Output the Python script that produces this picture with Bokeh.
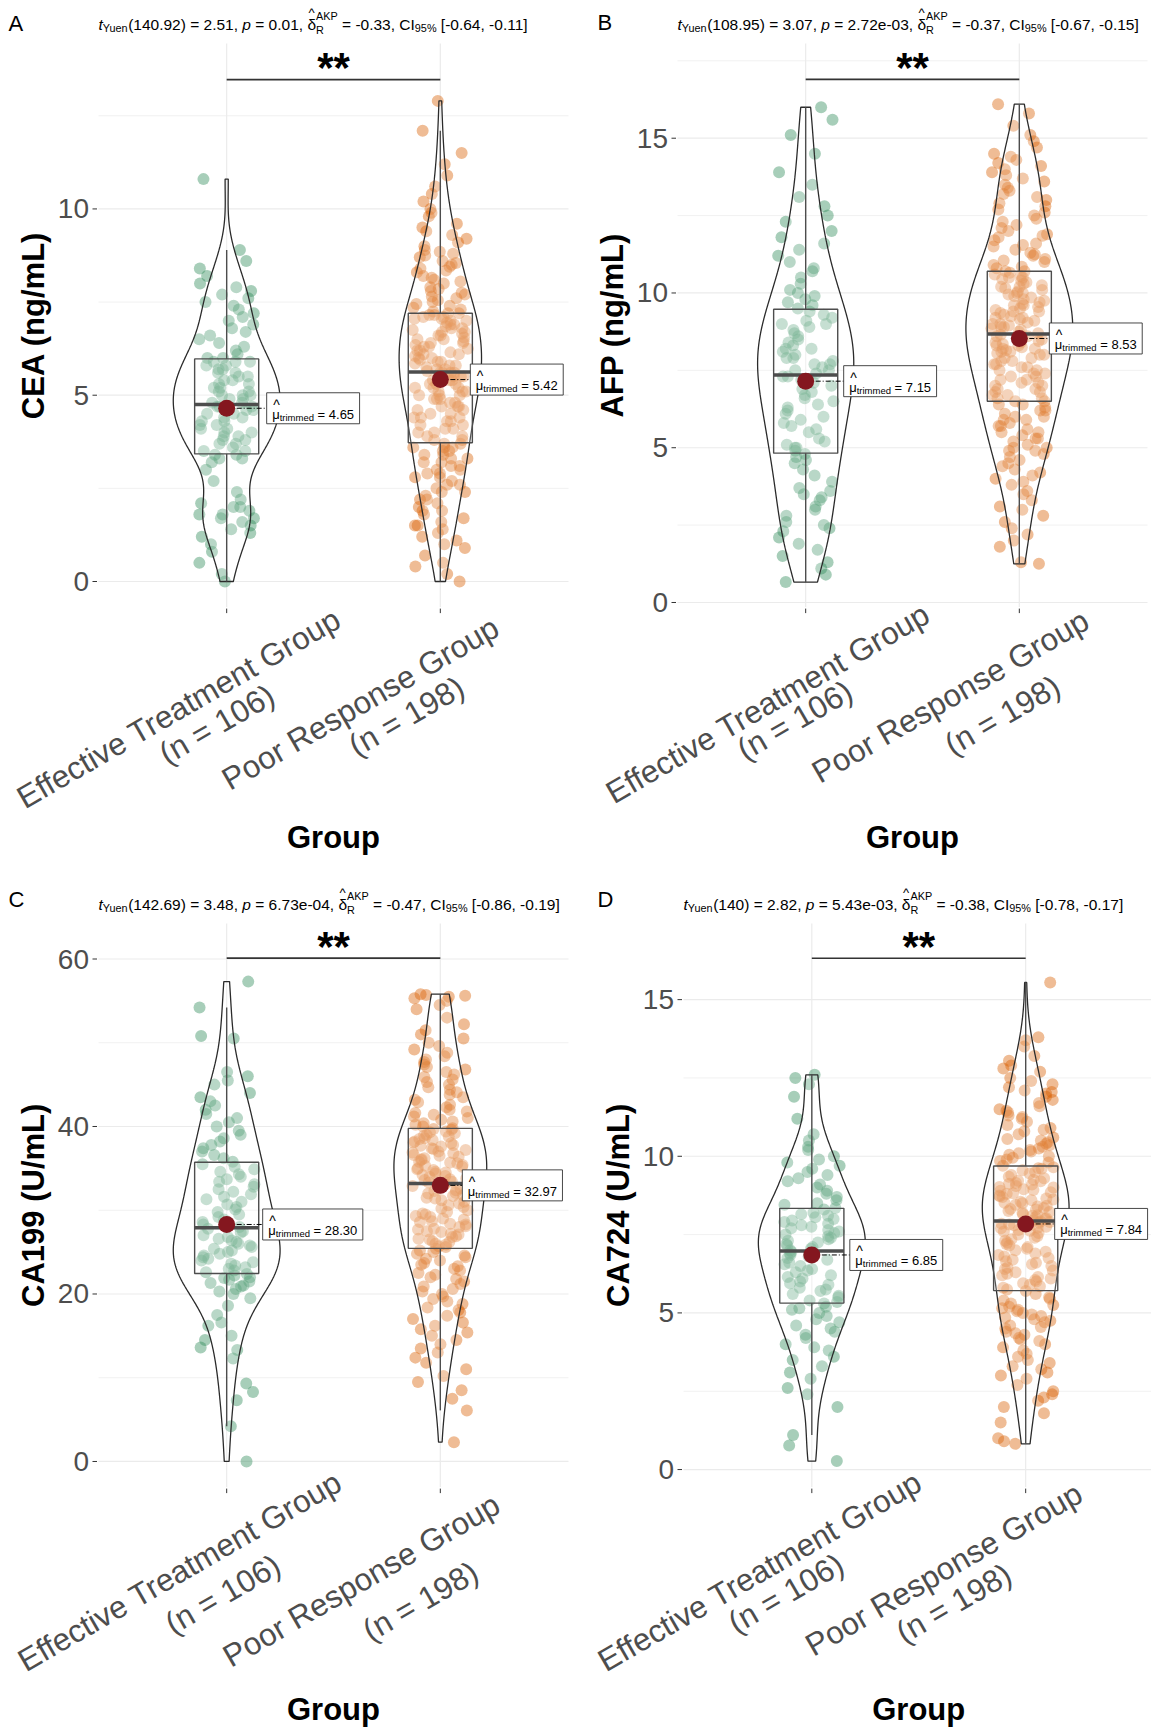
import numpy as np
from bokeh.plotting import figure
from bokeh.models import Label, Range1d
from bokeh.layouts import row, column
from bokeh.embed import file_html
from bokeh.resources import INLINE

# ---------------- data ----------------
groups = ["Effective Treatment Group", "Poor Response Group"]
group_n = [106, 198]
markers = ["CEA (ng/mL)", "AFP (ng/mL)", "CA199 (U/mL)", "CA724 (U/mL)"]
panel_tags = ["A", "B", "C", "D"]

cea_eff = [0.0, 0.2, 0.5, 0.8, 1.0, 1.2, 1.3, 1.4, 1.5, 1.6, 1.7, 1.7, 1.8, 1.8, 1.9, 2.0, 2.0, 2.1, 2.2, 2.4,
           2.7, 3.0, 3.2, 3.3, 3.3, 3.4, 3.4, 3.5, 3.5, 3.6, 3.7, 3.7, 3.8, 3.8, 3.9, 3.9, 4.0, 4.0, 4.1, 4.1,
           4.2, 4.2, 4.3, 4.3, 4.4, 4.4, 4.5, 4.5, 4.6, 4.6, 4.7, 4.7, 4.7, 4.8, 4.8, 4.9, 4.9, 5.0, 5.0, 5.0,
           5.1, 5.1, 5.2, 5.2, 5.3, 5.3, 5.4, 5.4, 5.5, 5.5, 5.6, 5.6, 5.7, 5.7, 5.8, 5.8, 5.9, 5.9, 5.9, 6.0,
           6.0, 6.1, 6.2, 6.3, 6.4, 6.5, 6.6, 6.7, 6.8, 6.9, 7.0, 7.1, 7.2, 7.3, 7.4, 7.5, 7.6, 7.7, 7.8, 7.9,
           8.0, 8.2, 8.4, 8.6, 8.9, 10.8]
cea_poor = [0.0, 0.2, 0.4, 0.5, 0.7, 0.9, 1.0, 1.1, 1.2, 1.3, 1.4, 1.5, 1.5, 1.6, 1.7, 1.8, 1.9, 1.9, 2.0, 2.1,
            2.2, 2.2, 2.3, 2.4, 2.4, 2.5, 2.6, 2.6, 2.7, 2.8, 2.8, 2.9, 2.9, 3.0, 3.0, 3.1, 3.1, 3.2, 3.2, 3.3,
            3.3, 3.4, 3.4, 3.5, 3.5, 3.6, 3.6, 3.6, 3.7,
            3.7, 3.8, 3.8, 3.9, 3.9, 4.0, 4.0, 4.1, 4.1, 4.2, 4.2, 4.3, 4.3, 4.4, 4.4, 4.4, 4.5, 4.5, 4.6, 4.6,
            4.7, 4.7, 4.7, 4.8, 4.8, 4.9, 4.9, 4.9, 5.0, 5.0, 5.0, 5.1, 5.1, 5.1, 5.2, 5.2, 5.2, 5.3, 5.3, 5.3,
            5.4, 5.4, 5.4, 5.5, 5.5, 5.5, 5.6, 5.6, 5.6, 5.6,
            5.65, 5.7, 5.7, 5.75, 5.8, 5.8, 5.85, 5.9, 5.9, 5.95, 6.0, 6.0, 6.05, 6.1, 6.1, 6.15, 6.2, 6.2, 6.25, 6.3,
            6.3, 6.35, 6.4, 6.4, 6.45, 6.5, 6.5, 6.55, 6.6, 6.6, 6.65, 6.7, 6.7, 6.75, 6.8, 6.8, 6.85, 6.9, 6.9, 6.95,
            7.0, 7.0, 7.05, 7.05, 7.1, 7.1, 7.15, 7.15, 7.2, 7.2,
            7.25, 7.3, 7.35, 7.4, 7.45, 7.5, 7.55, 7.6, 7.65, 7.7, 7.75, 7.8, 7.85, 7.9, 8.0, 8.05, 8.1, 8.15, 8.2, 8.3,
            8.35, 8.4, 8.45, 8.5, 8.55, 8.6, 8.7, 8.75, 8.8, 8.85, 8.9, 9.0, 9.1, 9.2, 9.3, 9.4, 9.5, 9.6, 9.8, 9.9,
            10.0, 10.2, 10.4, 10.6, 10.9, 11.2, 11.5, 12.1, 12.9]
afp_eff = [0.66, 0.9, 1.1, 1.3, 1.5, 1.7, 1.9, 2.1, 2.3, 2.4, 2.5, 2.6, 2.8, 3.0, 3.1, 3.3, 3.4, 3.5, 3.6, 3.7,
           3.9, 4.1, 4.3, 4.5, 4.6, 4.7,
           4.8, 4.9, 5.0, 5.0, 5.1, 5.2, 5.3, 5.5, 5.6, 5.7, 5.8, 5.9, 6.0, 6.1, 6.2, 6.3, 6.4, 6.5, 6.6, 6.7,
           6.8, 6.9, 7.0, 7.1, 7.2, 7.3, 7.3,
           7.4, 7.5, 7.5, 7.6, 7.7, 7.7, 7.8, 7.9, 7.9, 8.0, 8.1, 8.2, 8.2, 8.3, 8.4, 8.5, 8.6, 8.7, 8.8, 8.9,
           9.0, 9.0, 9.1, 9.2, 9.3, 9.4, 9.5,
           9.6, 9.7, 9.8, 9.9, 10.0, 10.1, 10.3, 10.5, 10.7, 10.8, 11.0, 11.2, 11.4, 11.6, 11.8, 12.0, 12.3, 12.5,
           12.8, 13.1, 13.5, 13.9, 14.5, 15.1, 15.6, 16.0]
afp_poor = [1.25, 1.3, 1.8, 2.0, 2.2, 2.4, 2.6, 2.8, 3.0, 3.1, 3.3, 3.5, 3.6, 3.8, 3.9, 4.0, 4.1, 4.2, 4.3, 4.4,
            4.5, 4.6, 4.7, 4.8, 4.9, 4.9, 5.0, 5.0, 5.1, 5.2, 5.3, 5.3, 5.4, 5.5, 5.5, 5.6, 5.7, 5.7, 5.8, 5.9,
            5.9, 6.0, 6.0, 6.1, 6.2, 6.2, 6.3, 6.4, 6.4,
            6.5, 6.5, 6.6, 6.6, 6.7, 6.7, 6.8, 6.8, 6.9, 6.9, 7.0, 7.0, 7.1, 7.1, 7.2, 7.2, 7.3, 7.3, 7.4, 7.4,
            7.5, 7.5, 7.6, 7.6, 7.7, 7.7, 7.8, 7.8, 7.9, 7.9, 8.0, 8.0, 8.05, 8.1, 8.1, 8.15, 8.2, 8.2, 8.25, 8.3,
            8.3, 8.35, 8.4, 8.4, 8.45, 8.5, 8.55, 8.6, 8.6, 8.65,
            8.7, 8.75, 8.8, 8.85, 8.9, 8.9, 8.95, 9.0, 9.0, 9.05, 9.1, 9.15, 9.2, 9.2, 9.25, 9.3, 9.35, 9.4, 9.4, 9.45,
            9.5, 9.55, 9.6, 9.6, 9.65, 9.7, 9.75, 9.8, 9.85, 9.9, 9.95, 10.0, 10.0, 10.05, 10.1, 10.15, 10.2, 10.2,
            10.25, 10.3, 10.35, 10.4, 10.45, 10.5, 10.5, 10.55, 10.6, 10.65, 10.7, 10.7,
            10.8, 10.85, 10.9, 11.0, 11.05, 11.1, 11.2, 11.25, 11.3, 11.4, 11.5, 11.55, 11.6, 11.7, 11.8, 11.85,
            11.9, 12.0, 12.1, 12.2, 12.3, 12.4, 12.5, 12.6, 12.7, 12.8, 12.9, 13.0, 13.1, 13.2, 13.3, 13.4, 13.5,
            13.6, 13.7, 13.8, 13.9, 14.0, 14.1, 14.2, 14.3, 14.4, 14.5, 14.7, 14.9, 15.1, 15.4, 15.8, 16.1]
ca199_eff = [0.0, 4.2, 7.3, 8.3, 9.3, 12.3, 13.3, 13.6, 14.5, 15.0, 16.2, 16.6, 17.5, 18.6, 19.5, 20.0, 20.3,
             20.6, 20.9, 21.0, 21.3, 21.5, 21.7, 21.9, 22.0, 22.2,
             22.4, 22.6, 22.8, 23.0, 23.2, 23.4, 23.6, 23.8, 24.0, 24.2, 24.4, 24.6, 24.8, 25.0, 25.2, 25.4, 25.6,
             25.8, 26.0, 26.2, 26.4, 26.6, 26.8, 27.0, 27.3, 27.5, 27.8,
             28.0, 28.3, 28.6, 28.9, 29.2, 29.5, 29.8, 30.1, 30.4, 30.7, 31.0, 31.3, 31.6, 31.9, 32.2, 32.5, 32.8,
             33.1, 33.4, 33.7, 34.0, 34.3, 34.6, 34.9, 35.2, 35.5, 35.8,
             36.2, 36.6, 37.0, 37.4, 37.8, 38.2, 38.6, 39.0, 39.5, 40.0, 40.5, 41.0, 41.5, 42.0, 42.5, 43.0, 43.5,
             44.0, 45.0, 45.5, 46.0, 46.5, 50.5, 50.8, 54.2, 57.3]
ca199_poor = [2.3, 6.1, 7.5, 8.5, 9.5, 10.2, 11.0, 11.8, 12.4, 13.0, 13.5, 14.0, 14.5, 15.0, 15.4, 15.8, 16.2,
              16.6, 17.0, 17.4, 17.8, 18.1, 18.4, 18.8, 19.1, 19.4, 19.7, 20.0, 20.3, 20.6, 20.9, 21.2, 21.5,
              21.8, 22.0, 22.3, 22.5, 22.8, 23.0, 23.3, 23.5, 23.7, 24.0, 24.2, 24.4, 24.6, 24.8, 25.0, 25.2,
              25.4, 25.6, 25.7, 25.9, 26.0, 26.2, 26.3, 26.5, 26.6, 26.8, 26.9, 27.1, 27.2, 27.4, 27.5, 27.7,
              27.8, 28.0, 28.1, 28.3, 28.4, 28.6, 28.7, 28.9, 29.0, 29.2, 29.3, 29.5, 29.6, 29.8, 30.0, 30.2,
              30.4, 30.6, 30.8, 31.0, 31.2, 31.4, 31.5, 31.7, 31.8, 32.0, 32.1, 32.3, 32.4, 32.6, 32.7, 32.9,
              33.0, 33.1,
              33.3, 33.4, 33.6, 33.7, 33.8, 34.0, 34.1, 34.2, 34.4, 34.5, 34.6, 34.8, 34.9, 35.0, 35.2, 35.3,
              35.4, 35.6, 35.7, 35.8, 36.0, 36.1, 36.2, 36.4, 36.5, 36.6, 36.8, 36.9, 37.0, 37.2, 37.3, 37.4,
              37.6, 37.7, 37.8, 38.0, 38.1, 38.2, 38.4, 38.5, 38.6, 38.8, 38.9, 39.0, 39.2, 39.3, 39.4, 39.6,
              39.7, 39.8,
              40.0, 40.2, 40.4, 40.6, 40.8, 41.0, 41.2, 41.4, 41.6, 41.8, 42.0, 42.3, 42.6, 42.9, 43.2, 43.5,
              43.8, 44.1, 44.4, 44.7, 45.0, 45.3, 45.6, 45.9, 46.2, 46.5, 46.8, 47.1, 47.4, 47.7, 48.0, 48.4,
              48.8, 49.2, 49.6, 50.0, 50.5, 51.0, 51.5, 52.2, 53.0, 54.0, 54.5, 55.0, 55.3, 55.5, 55.6, 55.7, 55.8]
ca724_eff = [0.27, 0.77, 1.1, 2.0, 2.4, 2.6, 2.9, 3.1, 3.3, 3.5, 3.6, 3.8, 3.9, 4.0, 4.2, 4.3, 4.4, 4.5, 4.6,
             4.7, 4.8, 4.9, 5.0, 5.1, 5.15, 5.2,
             5.3, 5.35, 5.4, 5.5, 5.55, 5.6, 5.7, 5.75, 5.8, 5.9, 5.95, 6.0, 6.1, 6.15, 6.2, 6.3, 6.35, 6.4,
             6.5, 6.55, 6.6, 6.7, 6.75, 6.8, 6.85, 6.9, 6.95,
             7.0, 7.05, 7.1, 7.15, 7.2, 7.25, 7.3, 7.35, 7.4, 7.45, 7.5, 7.55, 7.6, 7.65, 7.7, 7.75, 7.8, 7.85,
             7.9, 7.95, 8.0, 8.05, 8.1, 8.15, 8.2, 8.3, 8.35,
             8.45, 8.5, 8.6, 8.7, 8.8, 8.9, 9.0, 9.1, 9.2, 9.3, 9.4, 9.5, 9.6, 9.7, 9.8, 9.9, 10.0, 10.2, 10.3,
             10.5, 10.7, 11.2, 11.9, 12.3, 12.5, 12.6]
ca724_poor = [0.82, 0.9, 1.0, 1.5, 1.8, 2.0, 2.2, 2.3, 2.4, 2.5, 2.7, 2.9, 3.0, 3.1, 3.2, 3.3, 3.4, 3.5, 3.6,
              3.7, 3.8, 3.9, 4.0, 4.1, 4.15, 4.2, 4.3, 4.35, 4.4, 4.5, 4.55, 4.6, 4.7, 4.75, 4.8, 4.85, 4.9,
              4.95, 5.0, 5.05, 5.1, 5.15, 5.2, 5.25, 5.3, 5.4, 5.45, 5.5, 5.6,
              5.7, 5.75, 5.8, 5.85, 5.9, 5.95, 6.0, 6.05, 6.1, 6.15, 6.2, 6.25, 6.3, 6.35, 6.4, 6.45, 6.5, 6.55,
              6.6, 6.65, 6.7, 6.75, 6.8, 6.85, 6.9, 6.95, 7.0, 7.05, 7.1, 7.15, 7.2, 7.25, 7.3, 7.35, 7.4, 7.45,
              7.5, 7.55, 7.6, 7.62, 7.65, 7.7, 7.72, 7.75, 7.8, 7.82, 7.85, 7.88, 7.9, 7.92,
              7.95, 8.0, 8.02, 8.05, 8.1, 8.12, 8.15, 8.2, 8.22, 8.25, 8.3, 8.32, 8.35, 8.4, 8.42, 8.45, 8.5,
              8.52, 8.55, 8.6, 8.62, 8.65, 8.7, 8.72, 8.75, 8.8, 8.82, 8.85, 8.9, 8.92, 8.95, 9.0, 9.02, 9.05,
              9.1, 9.12, 9.15, 9.2, 9.22, 9.25, 9.3, 9.35, 9.4, 9.45, 9.5, 9.55, 9.6, 9.62, 9.65, 9.7,
              9.8, 9.85, 9.9, 9.95, 10.0, 10.05, 10.1, 10.15, 10.2, 10.25, 10.3, 10.35, 10.4, 10.45, 10.5, 10.55,
              10.6, 10.7, 10.8, 10.85, 10.9, 11.0, 11.1, 11.2, 11.25, 11.3, 11.4, 11.45, 11.5, 11.6, 11.7, 11.8,
              11.9, 12.0, 12.05, 12.1, 12.2, 12.3, 12.4, 12.5, 12.7, 12.8, 12.9, 13.05, 13.2, 13.5, 13.7, 13.8, 15.55]

trimmed_means = [[4.65, 5.42], [7.15, 8.53], [28.30, 32.97], [6.85, 7.84]]
yuen_df = ["140.92", "108.95", "142.69", "140"]
yuen_t = ["2.51", "3.07", "3.48", "2.82"]
p_values = ["0.01", "2.72e-03", "6.73e-04", "5.43e-03"]
delta_akp = ["-0.33", "-0.37", "-0.47", "-0.38"]
ci_low = ["-0.64", "-0.67", "-0.86", "-0.78"]
ci_high = ["-0.11", "-0.15", "-0.19", "-0.17"]
signif_labels = ["**", "**", "**", "**"]
sig_bar_y = [13.47, 16.9, 60.1, 16.32]
y_ticks = [[0, 5, 10], [0, 5, 10, 15], [0, 20, 40, 60], [0, 5, 10, 15]]
y_minor = [[2.5, 7.5, 12.5], [2.5, 7.5, 12.5, 17.5], [10, 30, 50], [2.5, 7.5, 12.5]]
y_limits = [(-0.687, 14.44), (-0.149, 18.06), (-3.06, 64.24), (-0.56, 17.43)]

panel_values = [[cea_eff, cea_poor], [afp_eff, afp_poor], [ca199_eff, ca199_poor], [ca724_eff, ca724_poor]]

# ---------------- layout / style ----------------
FONT = "Liberation Sans"
GREEN, ORANGE = "#2E8B57", "#D95F02"
FIG_W = [576, 575, 576, 575]
FIG_H = 864
ORIGIN = [(0, 0), (576, 0), (0, 864), (576, 864)]            # page position of each figure
FRAME = [(98, 568, 43, 606.6), (677, 1147, 43, 606.6),        # panel area (left, right, top, bottom)
         (98, 568, 923, 1486.6), (683, 1153.5, 923, 1486.6)]
LABEL_DX = [[40, 30], [38, 30], [36, 22], [38, 29]]
XLAB_OFF = [[(-48, 101, -10, 117), (-80, 96, -34, 109)],
            [(-38, 96, -11, 113), (-69, 89, -17, 108)],
            [(-47, 84, -4, 107), (-79, 93, -20, 114)],
            [(-52, 84, -26, 106), (-82, 82, -72, 116)]]
GROUP_TITLE_DY = [230, 230, 222, 222]
TAG_POS = [(8, 23), (597, 22), (8, 899), (597, 899)]

AW = {' ': 278, '%': 889, '(': 333, ')': 333, ',': 278, '-': 333, '.': 278, '=': 584, '[': 278, ']': 278,
      '^': 469, 'A': 667, 'C': 722, 'E': 667, 'G': 778, 'I': 278, 'K': 667, 'P': 667, 'R': 722, 'T': 611,
      'Y': 667, 'a': 556, 'c': 500, 'd': 556, 'e': 556, 'f': 278, 'i': 222, 'm': 833, 'n': 556, 'o': 556,
      'p': 556, 'r': 333, 's': 500, 't': 278, 'u': 556, 'v': 500, 'δ': 556, 'μ': 576}


def tw(s, size):
    return sum(AW.get(c, 556) for c in s) / 1000.0 * size


def jitter(n, seed):
    i = np.arange(n)
    h = np.sin(i * 91.3458 + seed * 47.853 + 0.5) * 24634.6345
    return ((h - np.floor(h)) * 2 - 1) * 0.13


def kde(v):
    v = np.asarray(v, float)
    n = len(v)
    q75, q25 = np.percentile(v, [75, 25])
    bw = 0.9 * min(v.std(ddof=1), (q75 - q25) / 1.34) * n ** (-0.2)
    ys = np.linspace(v.min(), v.max(), 300)
    d = np.exp(-0.5 * ((ys[:, None] - v[None, :]) / bw) ** 2).sum(1) / (n * bw * np.sqrt(2 * np.pi))
    return ys, d


def make_panel(k):
    ox, oy = ORIGIN[k]
    W = FIG_W[k]
    fl, fr, ft, fb = FRAME[k]
    y0, y1 = y_limits[k]

    def X(rx):
        return 0.4 + (rx - fl) / (fr - fl) * 2.2

    def Y(ry):
        return y0 + (fb - ry) / (fb - ft) * (y1 - y0)

    def PX(xd):
        return fl + (xd - 0.4) / 2.2 * (fr - fl)

    def PY(yd):
        return fb - (yd - y0) / (y1 - y0) * (fb - ft)

    p = figure(width=W, height=FIG_H, x_range=Range1d(X(ox), X(ox + W)), y_range=Range1d(Y(oy + FIG_H), Y(oy)),
               output_backend="svg", toolbar_location=None, x_axis_location=None, y_axis_location=None,
               min_border=0, min_border_left=0, min_border_right=0, min_border_top=0, min_border_bottom=0)
    p.outline_line_color = None
    p.background_fill_color = "white"
    p.border_fill_color = "white"
    p.grid.visible = False

    def lab(rx, ry, text, size, color="#000000", style="normal", align="left",
            baseline="alphabetic", angle=0):
        stripped = text.lstrip(" ")
        if align == "left":
            rx += (len(text) - len(stripped)) * tw(" ", size)
        p.add_layout(Label(x=X(rx), y=Y(ry), text=stripped, text_font=FONT, text_font_size=f"{size}px",
                           text_color=color, text_font_style=style, text_align=align,
                           text_baseline=baseline, angle=angle, angle_units="deg"))

    # panel grid
    xl, xr = X(fl), X(min(fr, ox + W))
    ymin = list(y_minor[k])
    p.segment(x0=[xl] * len(ymin), y0=ymin, x1=[xr] * len(ymin), y1=ymin, line_color="#F1F1F1", line_width=1)
    yt = y_ticks[k]
    p.segment(x0=[xl] * len(yt), y0=yt, x1=[xr] * len(yt), y1=yt, line_color="#EBEBEB", line_width=1.2)
    p.segment(x0=[1, 2], y0=[y0, y0], x1=[1, 2], y1=[y1, y1], line_color="#EBEBEB", line_width=1.2)
    # ticks
    p.segment(x0=[X(fl - 6)] * len(yt), y0=yt, x1=[X(fl - 1.5)] * len(yt), y1=yt, line_color="#333333",
              line_width=1)
    p.segment(x0=[1, 2], y0=[Y(fb + 1.5)] * 2, x1=[1, 2], y1=[Y(fb + 6)] * 2, line_color="#333333", line_width=1)
    for t in yt:
        lab(fl - 9.5, PY(t), str(t), 28, color="#4D4D4D", align="right", baseline="middle")

    vals = panel_values[k]
    cols = [GREEN, ORANGE]
    # jittered points
    for g in range(2):
        v = np.asarray(vals[g], float)
        xs = (g + 1) + jitter(len(v), 3 * k + g + 1)
        p.scatter(xs, v, size=12, fill_color=cols[g], fill_alpha=0.42, line_color=None)

    # violins (area scaled, trimmed)
    profs = [kde(vals[g]) for g in range(2)]
    dmax = max(d.max() for _, d in profs)
    for g in range(2):
        ys, d = profs[g]
        hw = 0.25 * d / dmax
        c = g + 1
        p.patch(np.concatenate([c - hw, (c + hw)[::-1]]), np.concatenate([ys, ys[::-1]]),
                fill_color="white", fill_alpha=0.2, line_color="#2B2B2B", line_width=1.3)

    # boxes
    for g in range(2):
        v = np.asarray(vals[g], float)
        q1, med, q3 = np.percentile(v, [25, 50, 75])
        iqr = q3 - q1
        lo = v[v >= q1 - 1.5 * iqr].min()
        hi = v[v <= q3 + 1.5 * iqr].max()
        c = g + 1
        p.segment(x0=[c, c], y0=[q3, lo], x1=[c, c], y1=[hi, q1], line_color="#4D4D4D", line_width=1.4)
        p.quad(left=c - 0.15, right=c + 0.15, bottom=q1, top=q3, fill_color="white", fill_alpha=0.2,
               line_color="#4D4D4D", line_width=1.4)
        p.segment(x0=[c - 0.15], y0=[med], x1=[c + 0.15], y1=[med], line_color="#4D4D4D", line_width=3.5)

    # significance bar
    p.segment(x0=[1], y0=[sig_bar_y[k]], x1=[2], y1=[sig_bar_y[k]], line_color="#333333", line_width=1.6)
    lab((PX(1) + PX(2)) / 2, PY(sig_bar_y[k]) - 12, signif_labels[k], 42, style="bold", align="center")

    # trimmed means with labels
    for g in range(2):
        c = g + 1
        m = trimmed_means[k][g]
        by = PY(m)
        bx = PX(c) + LABEL_DX[k][g]
        num = f"= {m:.2f}"
        wbox = 5.5 + tw("μ", 13) + tw("trimmed", 9.5) + tw(" ", 13) + tw(num, 13) + 5.5
        p.segment(x0=[c], y0=[m], x1=[X(bx)], y1=[m], line_color="black", line_width=1,
                  line_dash="5 2 1 2")
        p.scatter([c], [m], size=17, fill_color="#84171F", line_color=None)
        p.quad(left=X(bx), right=X(bx + wbox), bottom=Y(by + 15.5), top=Y(by - 15.5),
               fill_color="white", line_color="#333333", line_width=0.9)
        x = bx + 5.5
        lab(x + tw("μ", 13) / 2 + 0.5, by - 3.5, "^", 14, align="center")
        lab(x, by + 6, "μ", 13)
        x += tw("μ", 13)
        lab(x, by + 9, "trimmed", 9.5)
        x += tw("trimmed", 9.5) + tw(" ", 13)
        lab(x, by + 6, num, 13)

    # subtitle with statistical details
    f = 15.5
    fs = 0.7 * f
    base = ft - 19
    x = fl
    lab(x, base, "t", f, style="italic"); x += tw("t", f)
    lab(x, base + 3.3, "Yuen", fs); x += tw("Yuen", fs)
    s = f"({yuen_df[k]}) = {yuen_t[k]}, "
    lab(x, base, s, f); x += tw(s, f)
    lab(x, base, "p", f, style="italic"); x += tw("p", f)
    s = f" = {p_values[k]}, "
    lab(x, base, s, f); x += tw(s, f)
    lab(x + tw("δ", f) / 2, base - 0.78 * f, "^", 0.85 * f, align="center")
    lab(x, base, "δ", f); x += tw("δ", f)
    lab(x, base - 9, "AKP", fs)
    lab(x, base + 5.3, "R", fs)
    x += max(tw("AKP", fs), tw("R", fs))
    s = f" = {delta_akp[k]}, CI"
    lab(x, base, s, f); x += tw(s, f)
    lab(x, base + 3.3, "95%", fs); x += tw("95%", fs)
    lab(x, base, f" [{ci_low[k]}, {ci_high[k]}]", f)

    # panel tag
    tx, ty = TAG_POS[k]
    lab(tx, ty, panel_tags[k], 22)

    # rotated category labels
    for g in range(2):
        dx1, dy1, dx2, dy2 = XLAB_OFF[k][g]
        tx0 = PX(g + 1)
        lab(tx0 + dx1, fb + dy1, groups[g], 31.5, color="#4D4D4D", align="center", baseline="middle", angle=30)
        lab(tx0 + dx2, fb + dy2, f"(n = {group_n[g]})", 31.5, color="#4D4D4D", align="center",
            baseline="middle", angle=30)

    # axis titles
    lab((fl + fr) / 2, fb + GROUP_TITLE_DY[k], "Group", 31, style="bold", align="center", baseline="middle")
    lab(fl - 65, (ft + fb) / 2, markers[k], 31, style="bold", align="center", baseline="middle", angle=90)
    return p


panels = [make_panel(k) for k in range(4)]
layout = column(row(panels[0], panels[1]), row(panels[2], panels[3]))
open("out.html", "w").write(file_html(layout, INLINE))
